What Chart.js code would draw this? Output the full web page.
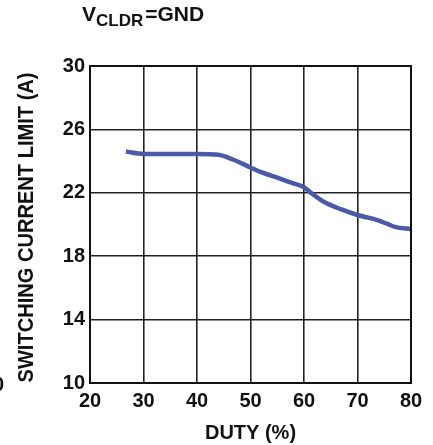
<!DOCTYPE html>
<html>
<head>
<meta charset="utf-8">
<script src="https://cdn.jsdelivr.net/npm/chart.js@4"></script>
<style>
html,body{margin:0;padding:0;background:#fff;}
#wrap{width:433px;height:445px;position:relative;}
</style>
</head>
<body>
<div id="wrap"><canvas id="c" width="433" height="445"></canvas></div>
<script>
// Data
const duty    = [26.7, 30, 35, 40, 44, 46.7, 50, 52, 55, 58, 60, 61.1, 63.6, 67, 70, 73, 75.5, 77, 80];
const current = [24.6, 24.45, 24.45, 24.45, 24.4, 24.1, 23.6, 23.3, 22.95, 22.6, 22.35, 22.05, 21.45, 20.95, 20.6, 20.35, 20.05, 19.85, 19.7];
const xTicks = [20, 30, 40, 50, 60, 70, 80];
const yTicks = [10, 14, 18, 22, 26, 30];
const titleMain = "V";
const titleSub = "CLDR";
const titleRest = "=GND";
const xTitle = "DUTY (%)";
const yTitle = "SWITCHING CURRENT LIMIT (A)";

const points = duty.map((d, i) => ({x: d, y: current[i]}));
const FONT = "'Liberation Sans', Arial, Helvetica, sans-serif";

const textPlugin = {
  id: 'texts',
  afterDraw(chart) {
    const ctx = chart.ctx;
    const area = chart.chartArea;
    ctx.save();
    ctx.fillStyle = '#111';
    // Title with subscript
    ctx.textBaseline = 'alphabetic';
    ctx.textAlign = 'left';
    let x = 82;
    ctx.font = 'bold 21px ' + FONT;
    ctx.fillText(titleMain, x, 21);
    x += ctx.measureText(titleMain).width;
    ctx.font = 'bold 17px ' + FONT;
    ctx.fillText(titleSub, x, 26);
    x += ctx.measureText(titleSub).width + 2;
    ctx.font = 'bold 21px ' + FONT;
    ctx.fillText(titleRest, x, 21);
    // Y-axis title (condensed, rotated)
    ctx.save();
    ctx.translate(27, (area.top + area.bottom) / 2 + 3);
    ctx.rotate(-Math.PI / 2);
    ctx.font = 'bold 22px ' + FONT;
    const w = ctx.measureText(yTitle).width;
    const target = 310;
    ctx.scale(target / w, 1);
    ctx.textAlign = 'center';
    ctx.textBaseline = 'middle';
    ctx.fillText(yTitle, 0, 0);
    ctx.restore();
    // fragment of neighbouring chart at the left edge
    ctx.font = 'bold 20px ' + FONT;
    ctx.textAlign = 'left';
    ctx.textBaseline = 'middle';
    ctx.fillText('0', -7, 385);
    // outer frame
    ctx.strokeStyle = '#111';
    ctx.lineWidth = 2;
    ctx.strokeRect(area.left, area.top, area.right - area.left, area.bottom - area.top);
    ctx.restore();
  }
};

new Chart(document.getElementById('c'), {
  type: 'line',
  data: {
    datasets: [{
      data: points,
      borderColor: '#4a5aa8',
      borderWidth: 4.5,
      pointRadius: 0,
      cubicInterpolationMode: 'monotone',
      fill: false
    }]
  },
  options: {
    responsive: false,
    animation: false,
    devicePixelRatio: 1,
    layout: {padding: {top: 66, right: 22, left: 0, bottom: 0}},
    plugins: {legend: {display: false}, title: {display: false}, tooltip: {enabled: false}},
    scales: {
      x: {
        type: 'linear',
        min: 20, max: 80,
        afterBuildTicks(scale) { scale.ticks = xTicks.map(v => ({value: v})); },
        afterFit(scale) { scale.height = 62; },
        grid: {color: '#222', lineWidth: 1.6, drawTicks: false},
        border: {color: '#111', width: 2},
        ticks: {color: '#111', font: {family: FONT, size: 20, weight: 'bold'}, padding: 6, maxRotation: 0},
        title: {display: true, text: xTitle, color: '#111', font: {family: FONT, size: 20, weight: 'bold'}, padding: {top: -2, bottom: 0}}
      },
      y: {
        min: 10, max: 30,
        afterBuildTicks(scale) { scale.ticks = yTicks.map(v => ({value: v})); },
        afterFit(scale) { scale.width = 90; },
        grid: {color: '#222', lineWidth: 1.6, drawTicks: false},
        border: {color: '#111', width: 2},
        ticks: {color: '#111', font: {family: FONT, size: 20, weight: 'bold'}, padding: 5}
      }
    }
  },
  plugins: [textPlugin]
});
</script>
</body>
</html>
